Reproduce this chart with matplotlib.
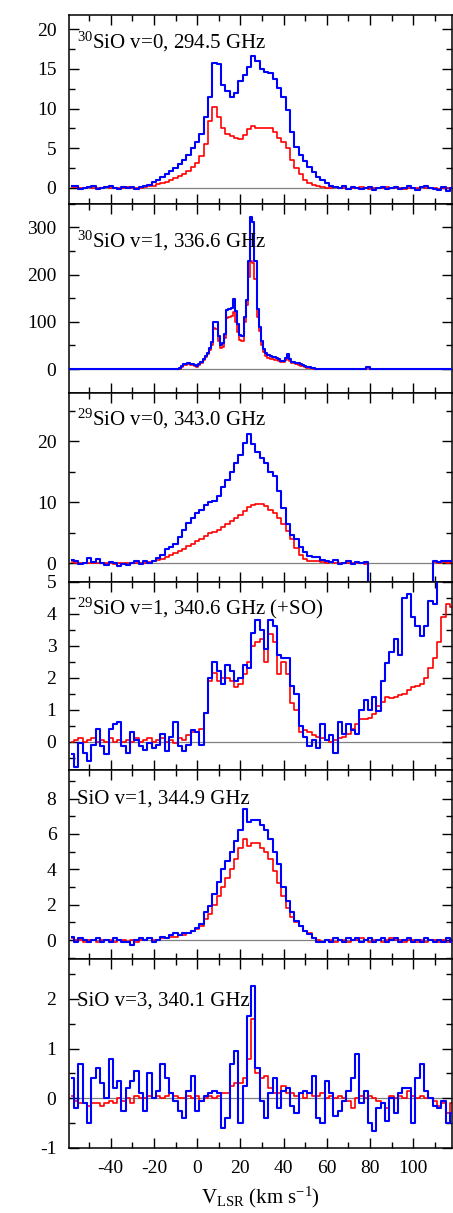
import numpy as np
import matplotlib
matplotlib.use('Agg')
import matplotlib.pyplot as plt
from matplotlib.ticker import MultipleLocator

# channel velocities (km/s), 2 km/s channels from -58 to 118
velocity = np.arange(-58, 119, 2)

# 30SiO v=1 has a narrow maser peak, so it is read at 1 km/s in the core
velocity_30sio_v1 = np.concatenate([[-60.0], np.arange(-9, 57), [60.0, 77.0, 79.0, 81.0, 120.0]])

# --- 30SiO v=0, 294.5 GHz
blue_30sio_v0 = [
    0.3, 0.2, -0.1, 0.0, 0.1, 0.2, -0.1, 0.0, 0.1, 0.2,
    0.0, -0.1, 0.1, 0.0, 0.1, -0.1, 0.1, 0.2, 0.4, 0.7,
    1.0, 1.4, 1.8, 2.1, 2.5, 3.0, 3.5, 4.2, 5.0, 5.8,
    6.8, 9.0, 11.5, 15.7, 15.6, 13.0, 12.2, 11.5, 12.0, 13.5,
    14.3, 15.3, 16.6, 16.0, 15.0, 14.6, 14.5, 13.8, 12.6, 11.5,
    9.8, 7.0, 5.2, 4.2, 3.4, 2.6, 2.0, 1.4, 1.0, 0.6,
    0.3, 0.1, 0.0, 0.2, -0.1, 0.1, 0.0, -0.1, 0.0, 0.1,
    -0.2, 0.0, 0.1, -0.1, 0.0, 0.1, -0.1, 0.0, 0.2, 0.0,
    -0.2, 0.1, 0.2, 0.0, -0.1, -0.3, 0.1, -0.4, 0.0,
]
red_30sio_v0 = [
    0.1, 0.1, 0.0, 0.0, 0.1, 0.0, 0.0, 0.0, 0.1, 0.0,
    0.0, 0.0, 0.0, 0.1, 0.0, 0.0, 0.0, 0.1, 0.2, 0.3,
    0.5, 0.6, 0.8, 1.0, 1.2, 1.5, 1.8, 2.2, 2.7, 3.2,
    4.0, 5.5, 8.5, 10.2, 9.0, 7.5, 6.8, 6.5, 6.3, 6.2,
    6.7, 7.4, 7.8, 7.6, 7.6, 7.5, 7.6, 7.0, 6.3, 5.8,
    5.0, 3.5, 2.5, 1.8, 1.0, 0.6, 0.4, 0.2, 0.1, 0.0,
    0.0, 0.1, 0.0, 0.0, -0.1, 0.0, 0.0, 0.1, 0.0, -0.1,
    0.0, 0.0, 0.0, 0.1, 0.0, 0.0, 0.0, -0.1, 0.0, 0.0,
    0.0, 0.1, 0.0, 0.0, 0.0, -0.1, 0.0, 0.0, 0.0,
]

# --- 30SiO v=1, 336.6 GHz (on velocity_30sio_v1)
blue_30sio_v1 = [
    0,
    0, 2, 6, 10, 11, 12, 11, 10, 8, 7,
    10, 16, 22, 28, 35, 45, 58, 100, 100, 70,
    50, 55, 75, 126, 128, 130, 148, 122, 95, 72,
    70, 110, 146, 230, 322, 312, 230, 128, 90, 60,
    42, 34, 29, 27, 26, 25, 24, 22, 18, 17,
    24, 33, 22, 16, 15, 13, 12, 10, 9, 7,
    5, 4, 3, 2, 1, 0,
    0, 0, 5, 0, 0,
]
red_30sio_v1 = [
    0,
    0, 1, 4, 8, 9, 10, 9, 8, 6, 5,
    8, 13, 19, 25, 32, 40, 52, 88, 85, 60,
    45, 47, 65, 108, 110, 112, 120, 100, 78, 62,
    60, 100, 135, 195, 230, 225, 190, 110, 80, 52,
    36, 28, 24, 22, 21, 20, 19, 17, 14, 14,
    20, 28, 18, 13, 12, 10, 9, 7, 6, 5,
    3, 2, 2, 1, 0, 0,
    0, 0, 3, 0, 0,
]

# --- 29SiO v=0, 343.0 GHz (spectrum falls off the plot between 79 and 109 km/s)
blue_29sio_v0 = [
    0.5, 0.3, -0.2, 0.1, 0.9, 0.2, 0.7, 0.1, -0.3, 0.2,
    0.0, -0.4, -0.1, -0.3, 0.1, 0.3, -0.2, 0.4, 0.1, 0.3,
    0.8, 1.3, 2.3, 2.6, 3.1, 4.3, 5.5, 6.6, 7.4, 8.2,
    8.8, 9.6, 10.0, 10.3, 11.0, 12.5, 13.6, 15.0, 16.4, 17.8,
    19.8, 21.2, 19.6, 18.3, 17.3, 16.5, 15.0, 14.4, 11.8, 9.0,
    6.5, 4.6, 4.0, 2.7, 1.8, 1.2, 1.1, 1.0, 0.6, 0.3,
    0.2, 0.6, -0.2, 0.1, 0.3, -0.1, 0.2, 0.0, 0.2, -30,
    -30, -30, -30, -30, -30, -30, -30, -30, -30, -30,
    -30, -30, -30, -30, 0.3, 0.2, 0.3, 0.4, 0.3,
]
red_29sio_v0 = [
    0.2, 0.1, 0.0, 0.0, 0.1, 0.0, 0.1, 0.0, 0.0, 0.0,
    -0.1, 0.0, 0.0, 0.1, 0.0, 0.0, 0.1, 0.1, 0.2, 0.3,
    0.5, 0.7, 1.0, 1.3, 1.6, 2.0, 2.4, 2.8, 3.2, 3.6,
    4.0, 4.5, 4.9, 5.2, 5.4, 5.9, 6.4, 6.9, 7.4, 8.0,
    8.6, 9.2, 9.6, 9.7, 9.7, 9.4, 8.7, 8.3, 7.4, 6.5,
    5.3, 3.9, 2.5, 1.4, 0.7, 0.4, 0.3, 0.3, 0.2, 0.1,
    0.2, 0.0, 0.1, 0.0, 0.0, 0.1, 0.0, 0.0, -0.1, -30,
    -30, -30, -30, -30, -30, -30, -30, -30, -30, -30,
    -30, -30, -30, -30, 0.2, 0.1, 0.2, 0.1, 0.2,
]

# --- 29SiO v=1, 340.6 GHz (+SO)
blue_29sio_v1 = [
    -0.4, -0.8, -0.05, -0.35, -0.6, -0.1, 0.4, -0.15, -0.4, 0.4,
    0.55, 0.6, -0.15, -0.35, 0.3, 0.05, -0.15, -0.25, -0.05, -0.2,
    -0.1, 0.25, -0.3, 0.15, 0.6, -0.15, -0.3, -0.1, 0.35, 0.3,
    -0.1, 0.9, 2.0, 2.5, 2.2, 1.8, 2.4, 2.2, 1.9, 2.0,
    2.4, 2.3, 3.4, 3.8, 3.5, 2.9, 3.8, 3.6, 2.7, 2.6,
    2.6, 1.75, 1.5, 0.5, 0.15, -0.15, 0.05, -0.2, 0.55, 0.05,
    0.2, -0.35, 0.6, 0.25, 0.55, 0.35, 0.25, 1.0, 1.3, 1.0,
    1.4, 0.95, 1.9, 2.45, 2.8, 3.2, 2.7, 4.5, 4.6, 3.9,
    3.6, 3.3, 3.6, 4.4, 4.3, 5.6, 6.5, 6.5, 6.5,
]
red_29sio_v1 = [
    0.0, 0.05, 0.1, 0.0, 0.05, 0.1, 0.0, 0.05, 0.0, 0.1,
    0.0, 0.05, 0.0, 0.05, 0.0, 0.1, 0.0, 0.05, 0.1, 0.0,
    0.05, 0.1, 0.0, 0.05, -0.05, 0.1, 0.05, 0.2, 0.3, 0.3,
    0.4, 0.9, 1.9, 2.15, 1.9, 2.0, 2.0, 1.9, 1.7, 1.8,
    2.1, 2.5, 3.0, 3.1, 3.2, 2.5, 3.35, 3.1, 2.1, 2.5,
    2.1, 1.2, 1.0, 0.3, 0.35, 0.3, 0.2, 0.15, 0.1, 0.05,
    0.0, 0.05, 0.1, 0.15, 0.25, 0.4, 0.55, 0.7, 0.7, 0.75,
    0.85, 1.1, 1.25, 1.4, 1.35, 1.4, 1.45, 1.5, 1.6, 1.7,
    1.75, 1.8, 2.0, 2.3, 2.6, 3.1, 3.9, 4.3, 4.2,
]

# --- SiO v=1, 344.9 GHz
blue_sio_v1 = [
    0.2, -0.1, 0.1, 0.0, -0.1, 0.0, 0.1, -0.1, 0.0, -0.1,
    0.1, 0.0, -0.1, -0.1, -0.3, 0.0, 0.1, 0.0, 0.1, -0.1,
    0.0, 0.2, 0.1, 0.3, 0.4, 0.3, 0.4, 0.4, 0.5, 0.7,
    0.9, 1.6, 1.9, 2.6, 3.3, 4.0, 4.5, 5.0, 5.6, 6.2,
    7.4, 6.7, 6.8, 6.8, 6.5, 6.2, 5.7, 5.0, 4.3, 3.0,
    2.2, 1.6, 1.1, 0.8, 0.5, 0.35, 0.1, -0.1, -0.1, 0.0,
    -0.1, 0.1, 0.0, -0.1, 0.1, 0.0, 0.1, -0.1, 0.0, 0.1,
    -0.1, 0.0, 0.1, -0.1, 0.0, 0.1, -0.1, 0.0, 0.1, -0.1,
    0.0, -0.1, 0.1, 0.0, -0.1, 0.0, -0.1, 0.1, -0.1,
]
red_sio_v1 = [
    0.1, 0.0, 0.0, -0.1, 0.0, 0.0, -0.1, 0.0, 0.0, 0.0,
    -0.1, 0.0, 0.0, -0.1, 0.0, -0.1, 0.0, 0.0, 0.1, 0.0,
    0.0, 0.1, 0.1, 0.2, 0.2, 0.3, 0.3, 0.4, 0.5, 0.6,
    0.8, 1.2, 1.5, 2.0, 2.5, 3.0, 3.5, 4.0, 4.6, 5.2,
    5.7, 5.3, 5.5, 5.5, 5.2, 5.0, 4.6, 3.9, 3.2, 2.5,
    1.8, 1.3, 1.0, 0.8, 0.5, 0.4, 0.1, 0.0, -0.1, 0.0,
    0.0, -0.1, 0.0, 0.0, -0.1, 0.0, 0.0, 0.1, 0.0, -0.1,
    0.0, 0.0, -0.1, 0.0, 0.1, 0.0, 0.0, -0.1, 0.0, 0.0,
    -0.1, 0.0, -0.1, 0.0, 0.0, -0.1, 0.0, -0.1, 0.0,
]

# --- SiO v=3, 340.1 GHz
blue_sio_v3 = [
    0.4, -0.2, 0.7, -0.1, -0.5, 0.4, 0.6, 0.3, 0.0, 0.8,
    0.2, 0.35, -0.25, 0.2, 0.35, 0.55, 0.1, -0.25, 0.5, 0.0,
    0.15, 0.7, 0.4, 0.1, -0.05, -0.25, -0.4, 0.15, 0.45, -0.25,
    -0.05, 0.05, 0.1, 0.15, 0.1, -0.6, -0.4, 0.7, 0.95, -0.5,
    0.25, 1.65, 2.25, 0.6, -0.05, -0.4, 0.1, 0.4, -0.2, 0.15,
    0.2, -0.15, -0.3, 0.1, 0.15, 0.1, 0.45, -0.4, -0.5, 0.35,
    0.1, -0.35, -0.25, -0.05, 0.15, 0.4, 0.9, -0.1, 0.15, -0.5,
    -0.65, -0.2, -0.1, -0.45, 0.0, -0.3, 0.1, 0.2, 0.2, -0.5,
    0.4, 0.7, 0.15, 0.0, -0.15, -0.2, -0.05, -0.5, -0.3,
]
red_sio_v3 = [
    0.05, -0.05, -0.1, -0.1, -0.15, -0.1, -0.1, -0.15, -0.1, -0.05,
    -0.1, 0.0, -0.05, 0.0, -0.1, 0.05, 0.0, 0.0, 0.05, 0.0,
    0.05, 0.0, 0.05, 0.1, 0.05, 0.0, 0.0, 0.05, 0.0, 0.05,
    -0.05, 0.0, 0.05, 0.0, 0.05, 0.1, 0.1, 0.25, 0.3, 0.3,
    0.4, 0.8, 1.6, 0.5, 0.4, 0.45, 0.2, 0.1, 0.1, 0.25,
    0.1, 0.1, 0.05, 0.1, 0.0, 0.1, 0.05, 0.05, 0.1, 0.0,
    0.05, 0.0, 0.05, 0.0, -0.05, -0.2, 0.0, 0.05, 0.0, 0.05,
    0.0, -0.05, -0.1, -0.2, 0.05, 0.0, 0.05, 0.0, 0.15, 0.05,
    0.0, 0.05, 0.0, 0.0, -0.05, -0.15, -0.1, -0.3, -0.1,
]

line_labels = [
    r'$^{30}$SiO v=0, 294.5 GHz',
    r'$^{30}$SiO v=1, 336.6 GHz',
    r'$^{29}$SiO v=0, 343.0 GHz',
    r'$^{29}$SiO v=1, 340.6 GHz (+SO)',
    'SiO v=1, 344.9 GHz',
    'SiO v=3, 340.1 GHz',
]
y_limits = [(-2, 21.8), (-50, 350), (-3, 28), (-0.9, 5), (-1.08, 9.6), (-1, 2.8)]
y_major = [5, 100, 10, 1, 2, 1]
y_minor = [2.5, 50, 5, 0.5, 1, 0.5]
label_y = [0.86, 0.805, 0.86, 0.86, 0.85, 0.78]


def setup_fonts():
    plt.rcParams['font.family'] = 'Liberation Serif'
    plt.rcParams['mathtext.fontset'] = 'custom'
    plt.rcParams['mathtext.rm'] = 'Liberation Serif'
    plt.rcParams['mathtext.it'] = 'Liberation Serif:italic'
    plt.rcParams['axes.unicode_minus'] = False
    plt.rcParams['axes.linewidth'] = 1.1


def draw_panel(ax, vel, blue, red, i):
    ax.axhline(0, color='#808080', lw=0.9, zorder=1)
    ax.plot(vel, red, drawstyle='steps-mid', color='red', lw=1.2, zorder=2)
    ax.plot(vel, blue, drawstyle='steps-mid', color='blue', lw=1.5, zorder=3)

    ax.set_xlim(-59.3, 118)
    ax.set_ylim(*y_limits[i])
    ax.xaxis.set_major_locator(MultipleLocator(20))
    ax.xaxis.set_minor_locator(MultipleLocator(10))
    ax.yaxis.set_major_locator(MultipleLocator(y_major[i]))
    ax.yaxis.set_minor_locator(MultipleLocator(y_minor[i]))
    ax.tick_params(which='both', direction='in', top=True, right=True, width=1.0,
                   labelsize=14, pad=9)
    ax.tick_params(which='major', length=7.5)
    ax.tick_params(which='minor', length=4)

    ax.text(0.02, label_y[i], line_labels[i], transform=ax.transAxes,
            fontsize=15, va='center', ha='left')


def main():
    setup_fonts()
    fig = plt.figure(figsize=(4.53, 12.13), dpi=100)
    gs = fig.add_gridspec(6, 1, left=0.1523, right=0.998, top=0.9876, bottom=0.0536, hspace=0)
    axes = [fig.add_subplot(gs[k]) for k in range(6)]

    spectra = [
        (velocity, blue_30sio_v0, red_30sio_v0),
        (velocity_30sio_v1, blue_30sio_v1, red_30sio_v1),
        (velocity, blue_29sio_v0, red_29sio_v0),
        (velocity, blue_29sio_v1, red_29sio_v1),
        (velocity, blue_sio_v1, red_sio_v1),
        (velocity, blue_sio_v3, red_sio_v3),
    ]
    for i, (vel, blue, red) in enumerate(spectra):
        assert len(vel) == len(blue) == len(red), i
        draw_panel(axes[i], vel, blue, red, i)
        if i < 5:
            axes[i].tick_params(labelbottom=False)

    axes[-1].set_xlabel(r'V$_{\rm LSR}$ (km s$^{-1}$)', fontsize=15, labelpad=5)
    fig.savefig('out.png', dpi=100)


if __name__ == '__main__':
    main()
